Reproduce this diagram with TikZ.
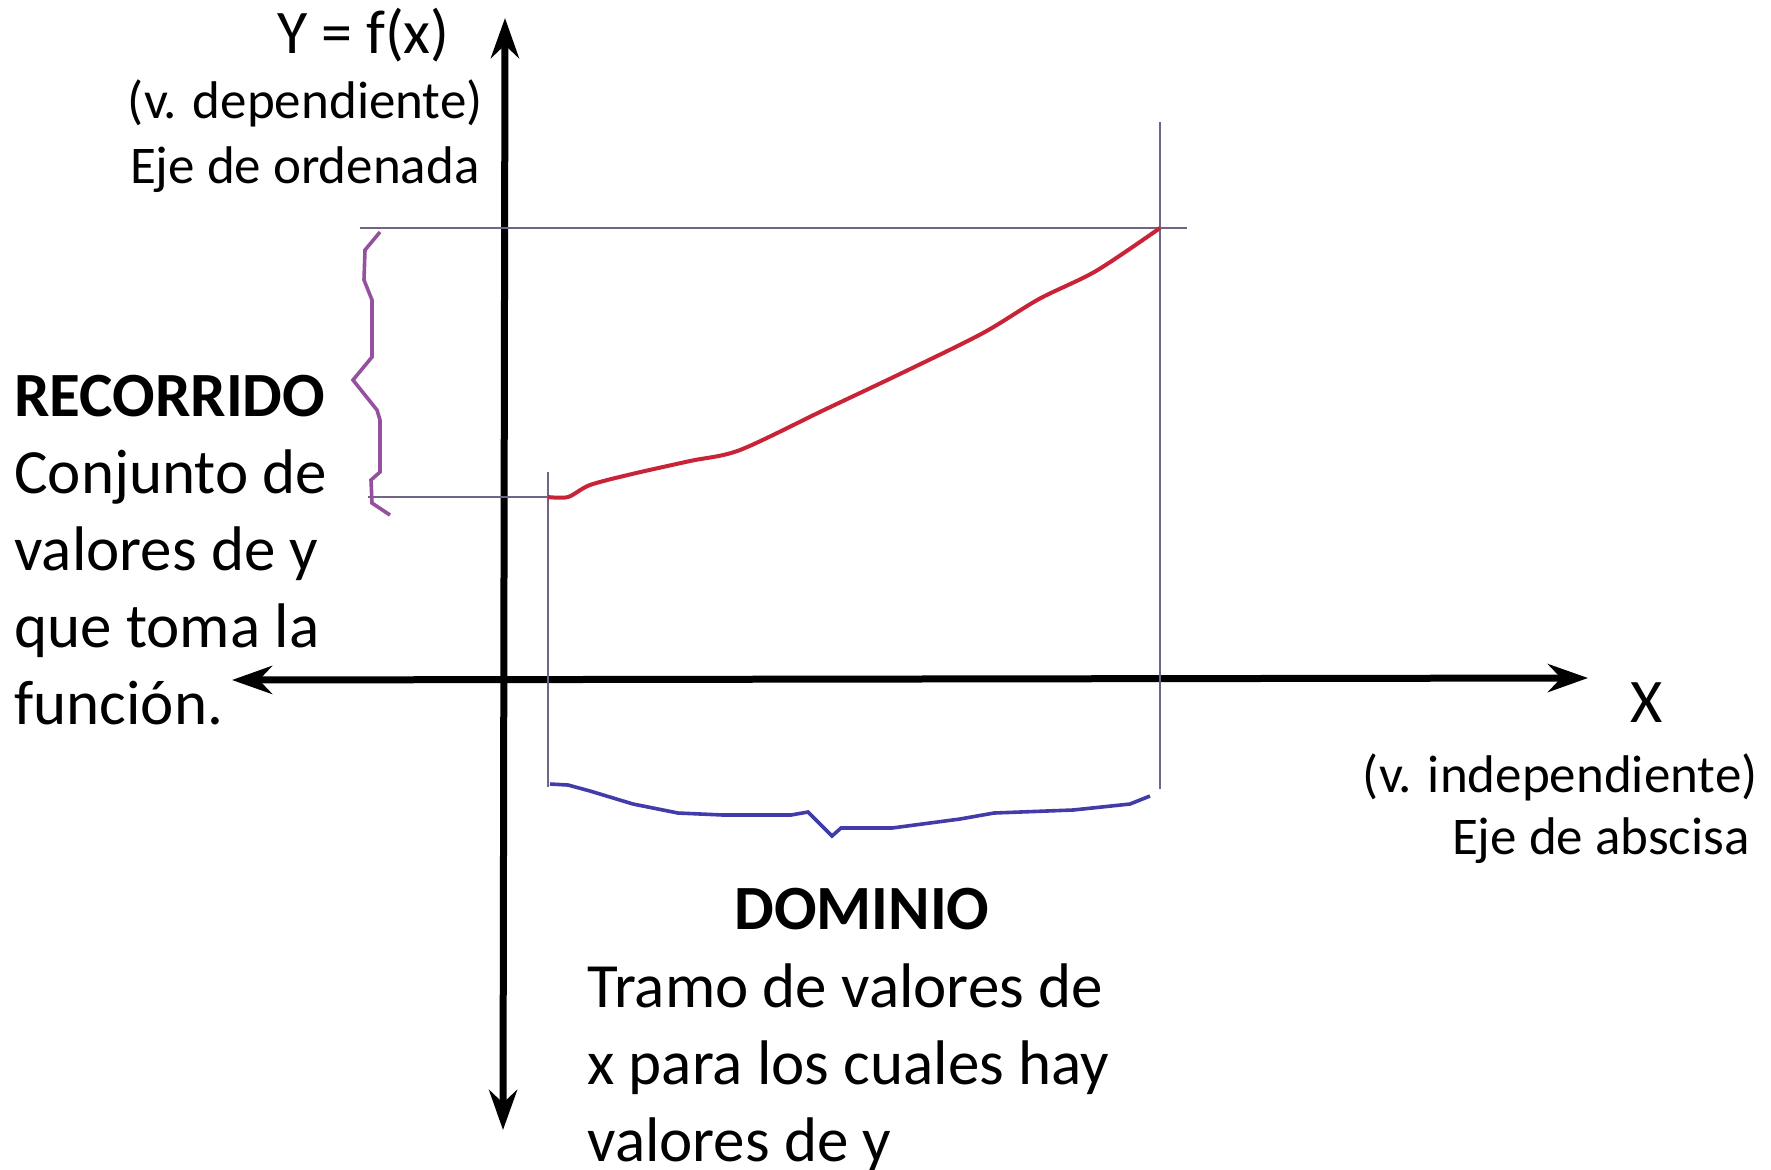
\documentclass[tikz,border=0pt]{standalone}
\usepackage{fontspec}
\setmainfont{Carlito}
\usetikzlibrary{arrows.meta, positioning}
\definecolor{guia}{RGB}{112,100,135}
\definecolor{curva}{RGB}{200,35,55}
\definecolor{llave}{RGB}{150,80,160}
\definecolor{llaveazul}{RGB}{65,60,170}
\tikzstyle{eje} = [line width=3.5pt, {Stealth[length=20pt, width=14pt]}-{Stealth[length=20pt, width=14pt]}]
\tikzstyle{auxiliar} = [draw=guia, line width=1.2pt]
\tikzstyle{rotulo} = [font=\fontsize{26.5}{32}\selectfont, inner sep=0pt]
\tikzstyle{texto} = [font=\fontsize{31.5}{38.5}\selectfont, align=left, inner sep=0pt]

\begin{document}
\begin{tikzpicture}[x=0.5pt, y=-0.5pt]
	\useasboundingbox (0,0) rectangle (1771,1169);
	% ejes
	\coordinate (ytop) at (505,18);
	\coordinate (ybot) at (503,1130);
	\coordinate (xizq) at (232,680);
	\coordinate (xder) at (1588,678);
	\draw [eje] (ybot) -- (ytop);
	\draw [eje] (xizq) -- (xder);
	% lineas guia
	\coordinate (max) at (1160,228);
	\coordinate (min) at (548,497);
	\draw [auxiliar] (360,228) -- (max) -- (1187,228);
	\draw [auxiliar] (1160,122) -- (max) -- (1160,789);
	\draw [auxiliar] (368,497) -- (min);
	\draw [auxiliar] (548,472) -- (min) -- (548,787);
	% funcion
	\draw [curva, line width=2pt] plot[smooth] coordinates {(min) (568,497) (590,485) (632,474) (690,461) (740,450) (824,410) (904,372) (983,333) (1039,299) (1096,271) (max)};
	% llaves
	\draw [llave, line width=1.8pt] plot coordinates {(380,232) (365,250) (364,280) (372,300) (372,357) (353,380) (377,410) (380,420) (380,472) (371,480) (372,503) (390,515)};
	\draw [llaveazul, line width=1.8pt] plot coordinates {(550,784) (568,785) (590,791) (633,804) (678,813) (723,815) (791,815) (808,812) (832,836) (841,828) (892,828) (960,819) (994,813) (1073,810) (1130,804) (1150,796)};
	% textos
	\node [rotulo, font=\fontsize{31}{37}\selectfont, anchor=base east] (fx) at (450,53) {Y = f(x)};
	\node [rotulo, anchor=base east] (vdep) at (483,118) {(v. dependiente)};
	\node [rotulo, anchor=base east] (ord) at (480,183) {Eje de ordenada};
	\node [texto, anchor=north west] (rec) at (14,375) {\textbf{RECORRIDO}\\Conjunto de\\valores de y\\que toma la\\función.};
	\node [rotulo, font=\fontsize{31}{37}\selectfont, anchor=base] (x) at (1647,722) {X};
	\node [rotulo, anchor=base east] (vind) at (1758,792) {(v. independiente)};
	\node [rotulo, anchor=base east] (abs) at (1750,854) {Eje de abscisa};
	\node [texto, anchor=base] (dom) at (862,929) {\textbf{DOMINIO}};
	\node [texto, anchor=north west] (tramo) at (587,963) {Tramo de valores de\\x para los cuales hay\\valores de y};
\end{tikzpicture}
\end{document}
